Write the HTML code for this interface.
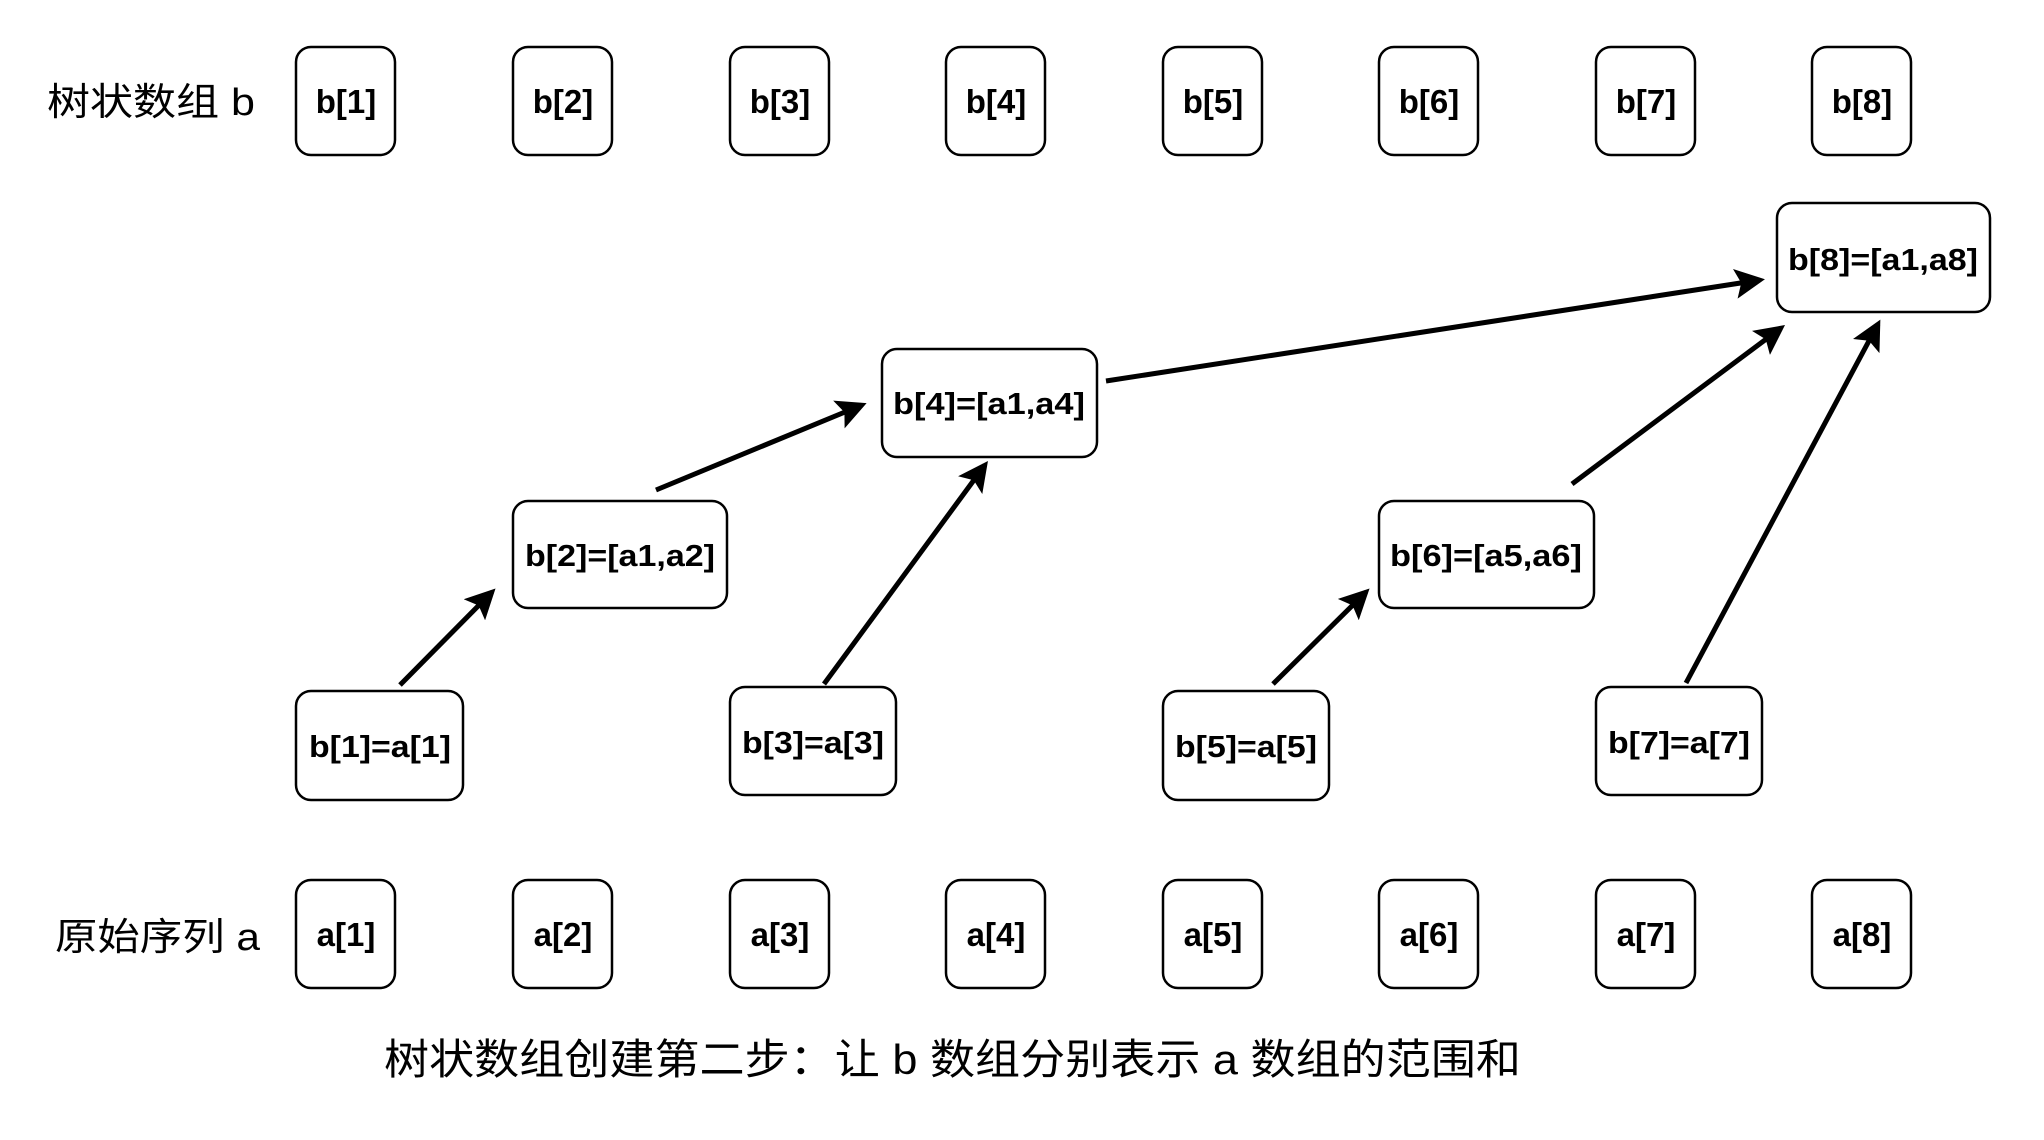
<!DOCTYPE html>
<html><head><meta charset="utf-8"><style>html,body{margin:0;padding:0;background:#fff}svg{display:block}</style></head><body>
<svg width="2044" height="1140" viewBox="0 0 2044 1140" xmlns="http://www.w3.org/2000/svg">
<defs><marker id="ah" markerWidth="6" markerHeight="6" refX="5" refY="3" orient="auto" markerUnits="strokeWidth"><path d="M0,0 L6,3 L0,6 L1.2,3 z" fill="#000"/></marker></defs>
<g fill="#fff" stroke="#000" stroke-width="2.5">
<rect x="296" y="47" width="99" height="108" rx="15"/>
<rect x="513" y="47" width="99" height="108" rx="15"/>
<rect x="730" y="47" width="99" height="108" rx="15"/>
<rect x="946" y="47" width="99" height="108" rx="15"/>
<rect x="1163" y="47" width="99" height="108" rx="15"/>
<rect x="1379" y="47" width="99" height="108" rx="15"/>
<rect x="1596" y="47" width="99" height="108" rx="15"/>
<rect x="1812" y="47" width="99" height="108" rx="15"/>
<rect x="296" y="880" width="99" height="108" rx="15"/>
<rect x="513" y="880" width="99" height="108" rx="15"/>
<rect x="730" y="880" width="99" height="108" rx="15"/>
<rect x="946" y="880" width="99" height="108" rx="15"/>
<rect x="1163" y="880" width="99" height="108" rx="15"/>
<rect x="1379" y="880" width="99" height="108" rx="15"/>
<rect x="1596" y="880" width="99" height="108" rx="15"/>
<rect x="1812" y="880" width="99" height="108" rx="15"/>
<rect x="296" y="691" width="167" height="109" rx="15"/>
<rect x="730" y="687" width="166" height="108" rx="15"/>
<rect x="1163" y="691" width="166" height="109" rx="15"/>
<rect x="1596" y="687" width="166" height="108" rx="15"/>
<rect x="513" y="501" width="214" height="107" rx="15"/>
<rect x="1379" y="501" width="215" height="107" rx="15"/>
<rect x="882" y="349" width="215" height="108" rx="15"/>
<rect x="1777" y="203" width="213" height="109" rx="15"/>
</g>
<g stroke="#000" stroke-width="5" fill="none" marker-end="url(#ah)">
<line x1="400" y1="685" x2="492" y2="592"/>
<line x1="656" y1="490" x2="862" y2="405"/>
<line x1="824" y1="684" x2="985" y2="465"/>
<line x1="1106" y1="381" x2="1760" y2="280"/>
<line x1="1572" y1="484" x2="1781" y2="328"/>
<line x1="1273" y1="684" x2="1366" y2="592"/>
<line x1="1686" y1="683" x2="1878" y2="324"/>
</g>
<g font-family="Liberation Sans, sans-serif" font-weight="bold" font-size="33" text-anchor="middle" fill="#000">
<text x="346" y="113">b[1]</text><text x="563" y="113">b[2]</text><text x="780" y="113">b[3]</text><text x="996" y="113">b[4]</text>
<text x="1213" y="113">b[5]</text><text x="1429" y="113">b[6]</text><text x="1646" y="113">b[7]</text><text x="1862" y="113">b[8]</text>
<text x="346" y="946">a[1]</text><text x="563" y="946">a[2]</text><text x="780" y="946">a[3]</text><text x="996" y="946">a[4]</text>
<text x="1213" y="946">a[5]</text><text x="1429" y="946">a[6]</text><text x="1646" y="946">a[7]</text><text x="1862" y="946">a[8]</text>
</g>
<g font-family="Liberation Sans, sans-serif" font-weight="bold" font-size="31" text-anchor="middle" fill="#000">
<text x="380" y="757" textLength="142" lengthAdjust="spacingAndGlyphs">b[1]=a[1]</text>
<text x="813" y="753" textLength="142" lengthAdjust="spacingAndGlyphs">b[3]=a[3]</text>
<text x="1246" y="757" textLength="142" lengthAdjust="spacingAndGlyphs">b[5]=a[5]</text>
<text x="1679" y="753" textLength="142" lengthAdjust="spacingAndGlyphs">b[7]=a[7]</text>
<text x="620" y="566" textLength="190" lengthAdjust="spacingAndGlyphs">b[2]=[a1,a2]</text>
<text x="1486" y="566" textLength="192" lengthAdjust="spacingAndGlyphs">b[6]=[a5,a6]</text>
<text x="989" y="414" textLength="192" lengthAdjust="spacingAndGlyphs">b[4]=[a1,a4]</text>
<text x="1883" y="270" textLength="190" lengthAdjust="spacingAndGlyphs">b[8]=[a1,a8]</text>
</g>
<g font-family="Liberation Sans, Noto Sans CJK SC, sans-serif" font-size="38" fill="#000">
<text x="47" y="115" textLength="208" lengthAdjust="spacingAndGlyphs">树状数组 b</text>
<text x="55" y="950" textLength="205" lengthAdjust="spacingAndGlyphs">原始序列 a</text>
<text x="384" y="1074" font-size="42" textLength="1137" lengthAdjust="spacingAndGlyphs">树状数组创建第二步：让 b 数组分别表示 a 数组的范围和</text>
</g>
</svg>
</body></html>
